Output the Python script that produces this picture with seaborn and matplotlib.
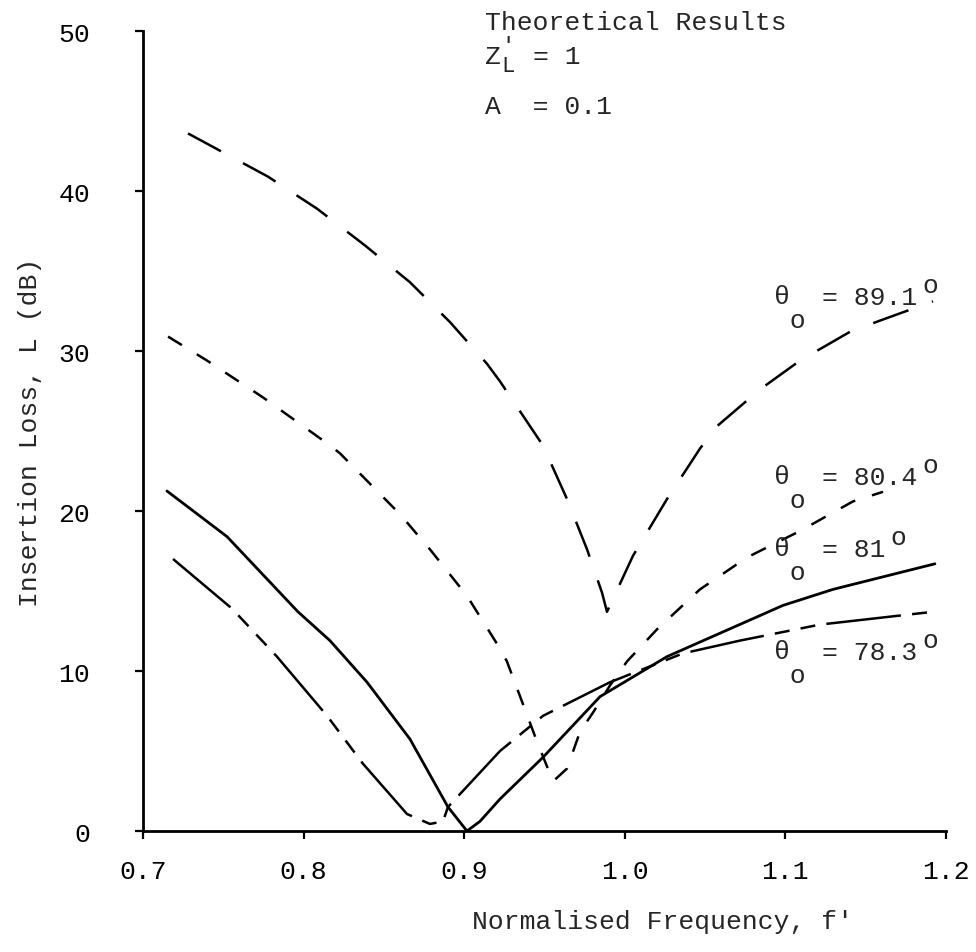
import matplotlib
matplotlib.use("Agg")
import matplotlib.pyplot as plt
import seaborn as sns

# ── data (normalised frequency f', insertion loss dB) ──
f_891 = [0.728, 0.7778, 0.8083, 0.8382, 0.8662, 0.8912, 0.9142, 0.9223, 0.949,
         0.964, 0.9765, 0.9858, 0.9889, 1.0051, 1.0263, 1.0468, 1.0574, 1.0842,
         1.1091, 1.1402, 1.1589, 1.1919]
L_891 = [43.6, 40.9, 38.9, 36.6, 34.3, 31.8, 29.2, 28.1, 24.1,
         20.75, 17.6, 14.9, 13.7, 17.2, 20.75, 23.9, 25.3, 27.6,
         29.4, 31.2, 31.9, 33.1]

f_804 = [0.7156, 0.7399, 0.7747, 0.8164, 0.8227, 0.86, 0.8787, 0.9017, 0.9117,
         0.9223, 0.9266, 0.9453, 0.9553, 0.964, 0.9721, 0.9802, 0.9908, 1.0014,
         1.02, 1.0468, 1.0761, 1.1091, 1.1421, 1.1608]
L_804 = [30.9, 29.4, 27.1, 24.1, 23.6, 19.8, 17.6, 14.7, 13.1,
         11.4, 10.6, 5.6, 3.1, 3.9, 6.2, 7.4, 9.1, 10.6,
         12.6, 15.1, 17.1, 18.75, 20.6, 21.2]

f_81 = [0.7149, 0.7523, 0.7965, 0.8164, 0.8395, 0.8662, 0.8899, 0.9017, 0.9098,
        0.9223, 0.949, 0.9846, 1.0263, 1.0985, 1.1296, 1.1931]
L_81 = [21.25, 18.4, 13.7, 11.9, 9.3, 5.75, 1.5, 0.0, 0.6,
        2.0, 4.6, 8.4, 10.9, 14.1, 15.1, 16.7]

f_783 = [0.7187, 0.7554, 0.7834, 0.8146, 0.837, 0.8644, 0.8787, 0.8868, 0.8899,
         0.9223, 0.9491, 0.9908, 1.0362, 1.0717, 1.1215, 1.1919]
L_783 = [17.0, 13.9, 10.9, 7.2, 4.2, 1.06, 0.44, 0.6, 1.5,
         5.0, 7.2, 9.3, 11.1, 11.9, 12.9, 13.7]

x_ticks = [0.7, 0.8, 0.9, 1.0, 1.1, 1.2]
x_ticklabels = ["0.7", "0.8", "0.9", "1.0", "1.1", "1.2"]
y_ticks = [0, 10, 20, 30, 40, 50]

curve_labels = ["89.1", "80.4", "81", "78.3"]

W, H = 976, 953

sns.set_style("ticks")
plt.rcParams['font.family'] = ['Liberation Mono', 'DejaVu Sans']

fig = plt.figure(figsize=(W / 100, H / 100), dpi=100)
ax = fig.add_axes([143 / W, 1 - 832 / H, 803 / W, 800 / H])

# curves
sns.lineplot(x=f_891, y=L_891, ax=ax, color='black', lw=1.8, sort=False,
             estimator=None, linestyle=(0, (15, 10)))
sns.lineplot(x=f_804, y=L_804, ax=ax, color='black', lw=1.8, sort=False,
             estimator=None, linestyle=(0, (6.5, 7)))
sns.lineplot(x=f_81, y=L_81, ax=ax, color='black', lw=2.0, sort=False,
             estimator=None)
sns.lineplot(x=f_783, y=L_783, ax=ax, color='black', lw=1.8, sort=False,
             estimator=None, linestyle=(0, (30, 4.5, 6, 4.5, 6, 4.5)))

ax.set_xlim(0.7, 1.2)
ax.set_ylim(0, 50)
ax.set_xticks(x_ticks)
ax.set_xticklabels(x_ticklabels)
ax.set_yticks(y_ticks)
sns.despine(ax=ax)
for s in ['left', 'bottom']:
    ax.spines[s].set_linewidth(2.0)
    ax.spines[s].set_color('black')
ax.tick_params(axis='both', direction='out', length=6, width=1.6,
               colors='black', labelsize=19)
ax.tick_params(axis='x', pad=14)
ax.tick_params(axis='y', pad=32)
ax.set_ylabel("Insertion Loss, L (dB)", fontsize=19, labelpad=12)
ax.set_xlabel("")


def label(px, py, s, size=19, va='center', **kw):
    # place text at a pixel position of the reference image
    fig.text(px / W, 1 - py / H, s, fontsize=size, ha='left', va=va, **kw)


label(472, 922, "Normalised Frequency, f'")

# header
label(485, 23, "Theoretical Results")
label(485, 57, "Z")
label(501, 36, "\u2032\nL", size=16, va='top', linespacing=0.95)
label(533, 57, "= 1")
label(485, 107, "A  = 0.1")

# curve labels: theta with subscript o on the line below, degree as raised o
for py, val in zip([298, 478, 550, 653], curve_labels):
    label(774, py - 12.5, "\u03b8\n o", va='top', linespacing=1.0)
    label(822, py, "= " + val)
    label(822 + 16 * (2 + len(val)) + 4, py - 12, "o")

fig.savefig("out.png", dpi=100)
